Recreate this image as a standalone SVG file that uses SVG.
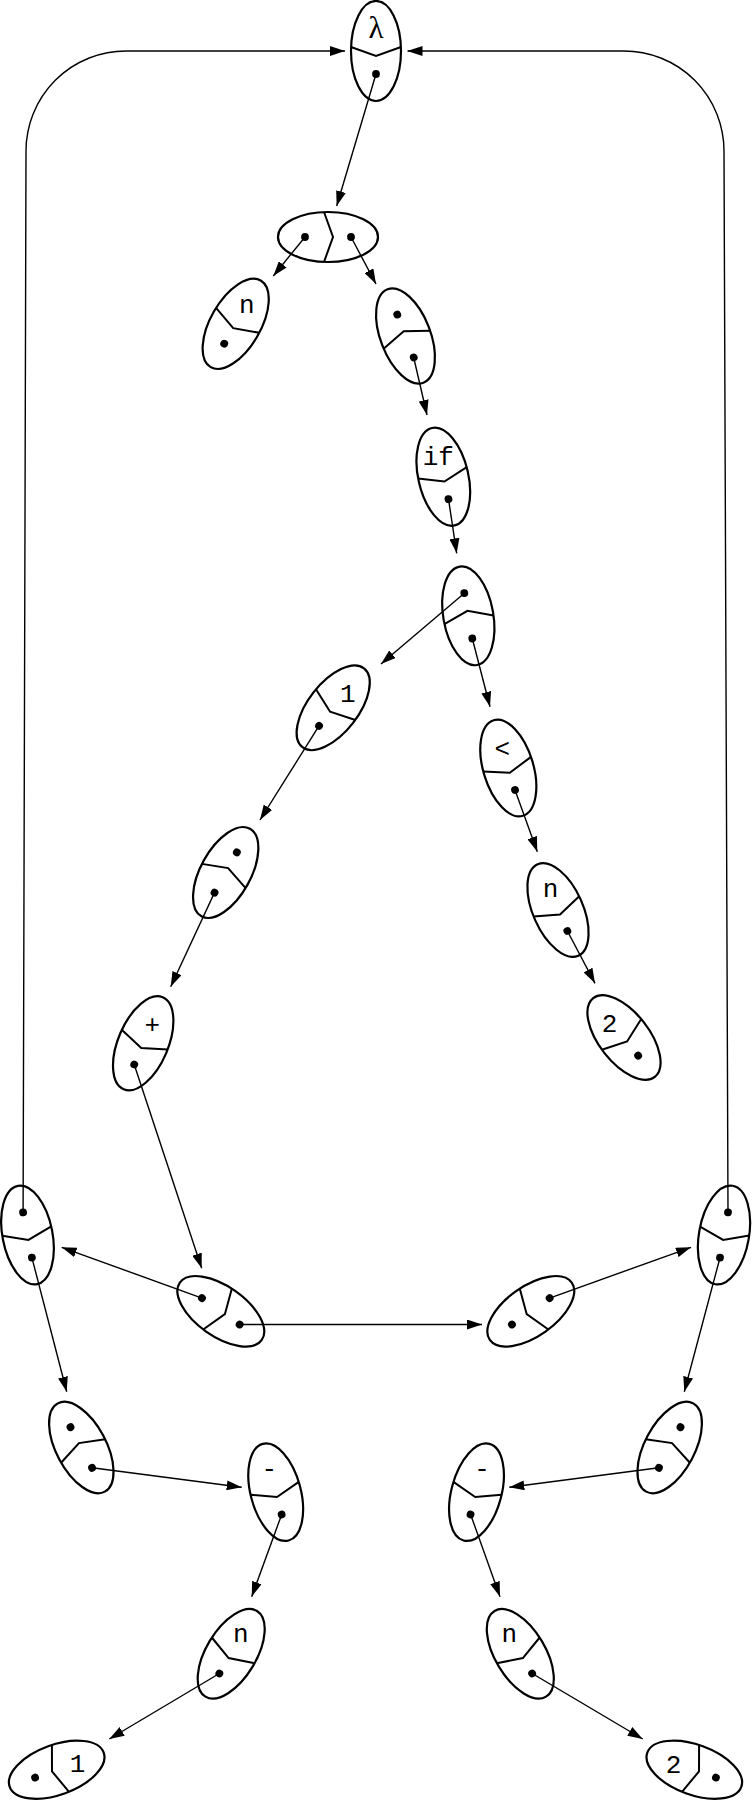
<svg xmlns="http://www.w3.org/2000/svg" width="752" height="1801" viewBox="0 0 752 1801">
<style>
.e{fill:none;stroke:#000;stroke-width:2.2}
.d{fill:none;stroke:#000;stroke-width:2}
.c{fill:none;stroke:#000;stroke-width:1.4;marker-end:url(#ah)}
.t{font-family:"Liberation Mono",monospace;font-size:26px;text-anchor:middle;fill:#000}
.g{font-family:"Liberation Serif",serif;font-size:31px;text-anchor:middle;fill:#000}
</style>
<defs>
<marker id="ah" markerUnits="userSpaceOnUse" markerWidth="15" markerHeight="10" refX="15" refY="5" orient="auto"><path d="M0,0 L15,5 L0,10 z" fill="#000"/></marker>
<g id="cell"><ellipse class="e" rx="25" ry="50"/><polyline class="d" points="-25,-4 0,5 25,-4"/><circle cy="23" r="3.9"/></g>
<circle id="dot" cy="-23" r="3.9"/>
</defs>
<rect width="752" height="1801" fill="#fff"/>
<g id="connectors">
<path class="c" d="M23.1,1212.4 L26,151 A100,100 0 0 1 126,51 L345,51"/>
<path class="c" d="M728,1212.3 L724,151 A100,100 0 0 0 624,51 L407.5,51"/>
<path class="c" d="M376,74 L336.7,206"/>
<path class="c" d="M305,237 L273.3,276"/>
<path class="c" d="M351,237 L376,284"/>
<path class="c" d="M413.7,357.5 L427,415"/>
<path class="c" d="M448.5,499.1 L456.7,553.3"/>
<path class="c" d="M464.3,593.2 L381,664"/>
<path class="c" d="M472.3,638.5 L490,706.7"/>
<path class="c" d="M319,725.9 L260,820"/>
<path class="c" d="M515,790 L537.3,851.7"/>
<path class="c" d="M567.4,931 L595,983.3"/>
<path class="c" d="M214.5,892.6 L170.7,986.7"/>
<path class="c" d="M134.2,1064.5 L201.7,1268.3"/>
<path class="c" d="M31.9,1257.6 L66.7,1391.7"/>
<path class="c" d="M202,1298.1 L61.7,1247.3"/>
<path class="c" d="M239.6,1324.5 L482,1324.5"/>
<path class="c" d="M549.6,1298.1 L691,1247.3"/>
<path class="c" d="M720,1257.7 L684.3,1391.7"/>
<path class="c" d="M92.1,1467.8 L241.7,1487.3"/>
<path class="c" d="M281.7,1514.4 L251.7,1596.7"/>
<path class="c" d="M219.4,1673.5 L109.3,1739"/>
<path class="c" d="M658.9,1467.8 L509.3,1487.3"/>
<path class="c" d="M470.6,1514.4 L500,1596.7"/>
<path class="c" d="M532.2,1673.5 L642.7,1739"/>
</g>
<g id="node-lambda" transform="translate(376,51)"><use href="#cell"/><text class="g" x="0" y="-13">λ</text></g>
<g id="node-pair" transform="translate(328,237)"><g transform="rotate(-90)"><use href="#cell"/><use href="#dot"/></g></g>
<g id="node-n1" transform="translate(235.7,323.8)"><use href="#cell" transform="rotate(30)"/><text class="t" x="11" y="-11.3">n</text></g>
<g id="node-d4" transform="translate(405.5,336)"><g transform="rotate(159)"><use href="#cell"/><use href="#dot"/></g></g>
<g id="node-if" transform="translate(443.3,476.7)"><use href="#cell" transform="rotate(-13)"/><text class="t" x="-5" y="-12">if</text></g>
<g id="node-d6" transform="translate(468.3,615.8)"><g transform="rotate(170)"><use href="#cell"/><use href="#dot"/></g></g>
<g id="node-one" transform="translate(333.2,707.8)"><use href="#cell" transform="rotate(38)"/><text class="t" x="14.6" y="-6.1">1</text></g>
<g id="node-lt" transform="translate(508.3,768)"><use href="#cell" transform="rotate(-17)"/><text class="t" x="-6.1" y="-11">&lt;</text></g>
<g id="node-n2" transform="translate(558,910)"><use href="#cell" transform="rotate(-24)"/><text class="t" x="-7.5" y="-13.3">n</text></g>
<g id="node-two" transform="translate(624,1037.5)"><use href="#cell" transform="rotate(-38)"/><text class="t" x="-14.5" y="-5.8">2</text></g>
<g id="node-d11" transform="translate(225.7,872.5)"><g transform="rotate(-151)"><use href="#cell"/><use href="#dot"/></g></g>
<g id="node-plus" transform="translate(143.2,1043.3)"><use href="#cell" transform="rotate(23)"/><text class="t" x="9" y="-10.8">+</text></g>
<g id="node-l" transform="translate(27.5,1235)"><g transform="rotate(-11)"><use href="#cell"/><use href="#dot"/></g></g>
<g id="node-c" transform="translate(220.8,1311.3)"><g transform="rotate(-55)"><use href="#cell"/><use href="#dot"/></g></g>
<g id="node-rc" transform="translate(530.8,1311.3)"><g transform="rotate(55)"><use href="#cell"/><use href="#dot"/></g></g>
<g id="node-r" transform="translate(724,1235)"><g transform="rotate(10)"><use href="#cell"/><use href="#dot"/></g></g>
<g id="node-ll1" transform="translate(81.3,1447.5)"><g transform="rotate(152)"><use href="#cell"/><use href="#dot"/></g></g>
<g id="node-minus-l" transform="translate(275.7,1492.2)"><use href="#cell" transform="rotate(-15)"/><text class="t" x="-6.4" y="-14.9">-</text></g>
<g id="node-nl" transform="translate(231.2,1653.8)"><use href="#cell" transform="rotate(31)"/><text class="t" x="9.5" y="-12.3">n</text></g>
<g id="node-one-b" transform="translate(56.7,1769.7)"><use href="#cell" transform="rotate(70)"/><text class="t" x="20.8" y="2">1</text></g>
<g id="node-rr1" transform="translate(669.7,1447.5)"><g transform="rotate(-152)"><use href="#cell"/><use href="#dot"/></g></g>
<g id="node-minus-r" transform="translate(476.5,1492.2)"><use href="#cell" transform="rotate(15)"/><text class="t" x="5.5" y="-14.9">-</text></g>
<g id="node-nr" transform="translate(520.3,1653.8)"><use href="#cell" transform="rotate(-31)"/><text class="t" x="-11" y="-12.3">n</text></g>
<g id="node-two-b" transform="translate(694.3,1769.7)"><use href="#cell" transform="rotate(-70)"/><text class="t" x="-20.8" y="3">2</text></g>
</svg>
